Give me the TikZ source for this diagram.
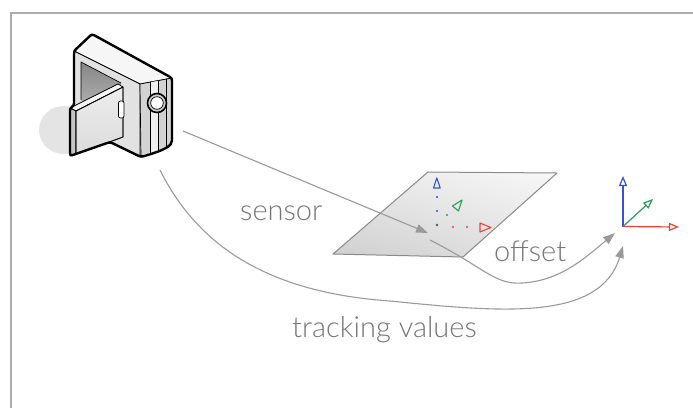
\documentclass[tikz,border=0pt]{standalone}
\usepackage{fontspec}
\setmainfont{Lato}[UprightFont={* Light}]
\usetikzlibrary{arrows.meta,shadings}

\definecolor{framegray}{HTML}{ADADAD}
\definecolor{linkgray}{HTML}{9A9A9A}
\definecolor{textgray}{HTML}{767676}
\definecolor{shadowgray}{HTML}{E4E4E4}
\definecolor{planeedge}{HTML}{8A8A8A}
\definecolor{axisblue}{HTML}{3B4FD6}
\definecolor{axisred}{HTML}{E8433B}
\definecolor{axisgreen}{HTML}{2F9A5C}
\definecolor{camtop}{HTML}{F6F6F6}
\definecolor{camface}{HTML}{E2E2E2}
\definecolor{camside}{HTML}{D3D3D3}
\definecolor{camdark}{HTML}{C4C4C4}

\tikzset{
  connector/.style={draw=linkgray, line width=1.1pt,
    -{Triangle[length=12pt,width=8.5pt]}},
  lbltext/.style={text=textgray, font=\fontsize{29}{29}\selectfont,
    anchor=base west, inner sep=0pt},
  thinedge/.style={draw=black, line width=0.7pt, line join=round},
  axisarrow/.style={line width=1.2pt,
    -{Triangle[open,length=10pt,width=8pt,fill=white]}},
  planedot/.style={radius=1.1pt},
}

\begin{document}
\begin{tikzpicture}[x=1pt,y=-1pt]
\useasboundingbox (0,0) rectangle (693,408);
\fill[white] (0,0) rectangle (693,408);

% frame edges
\draw[framegray, line width=2pt] (11,408) -- (11,13) -- (693,13);

% ---------- camera ----------
\fill[shadowgray] (64,130) ellipse [x radius=25, y radius=24];

% base fill of the whole silhouette
\fill[camdark] (74,51) -- (92,34) -- (172,78) -- (172,138)
  .. controls (172,146) and (165,150) .. (141,157)
  -- (110,142) -- (70,156) -- (70,108) -- (74,106) -- cycle;

% top face
\filldraw[fill=camtop, thinedge] (74,51) -- (92,34) -- (172,78) -- (140,84) -- cycle;
% long face
\filldraw[fill=camface, thinedge] (74,51) -- (140,84) -- (140,157) -- (74,124) -- cycle;
% screen recess
\shade[top color=black!48, bottom color=black!25] (81,62) -- (121,83) -- (121,120) -- (81,100) -- cycle;
\draw[thinedge] (81,100) -- (81,62) -- (121,83);
% lens side with vertical strips
\filldraw[fill=camside, thinedge] (140,84) -- (172,78) -- (172,138)
  .. controls (172,146) and (165,150) .. (141,157) -- cycle;
\fill[white!94!black] (150,82.3) -- (158,81) -- (158,151) -- (150,154) -- cycle;
\draw[thinedge] (150,82.3) -- (150,154);
\draw[thinedge] (158,81) -- (158,151);
\draw[thinedge] (166,79) -- (166,146);

% open door: top edge, side edge, front face
\filldraw[fill=white!97!black, thinedge] (70,108) -- (118,84) -- (123,87) -- (76,111) -- cycle;
\filldraw[fill=camdark, thinedge] (70,108) -- (76,111) -- (76,154) -- (70,156) -- cycle;
\shade[top color=white!93!black, bottom color=white!86!black, thinedge]
  (76,111) -- (123,87) -- (123,137) -- (76,154) -- cycle;
\draw[thinedge] (76,111) -- (123,87) -- (123,137) -- (76,154) -- cycle;
% door handle
\filldraw[fill=white, thinedge, rounded corners=2pt] (118.5,101) rectangle (124,118);

% lens ring
\filldraw[fill=white!80!black, draw=black, line width=1.6pt] (157,103) circle [radius=9.5];
\filldraw[fill=white, draw=black, line width=0.7pt] (157,103) circle [radius=6.3];

% thick outline
\draw[black, line width=2.4pt, line join=round, rounded corners=2.5pt]
  (74,51) -- (92,34) -- (172,78) -- (172,138)
  .. controls (172,146) and (165,150) .. (141,157)
  -- (110,142) -- (70,156) -- (70,108) -- (74,106) -- cycle;

\coordinate (camSide) at (183,131);
\coordinate (camBase) at (160,170);

% ---------- tracked plane ----------
\coordinate (pA) at (333,254);
\coordinate (pB) at (463,257);
\coordinate (pC) at (557,173);
\coordinate (pD) at (428,172);
\shade[lower left=black!19, upper right=black!3, upper left=black!9,
  lower right=black!11] (pA) -- (pB) -- (pC) -- (pD) -- cycle;
\draw[planeedge, line width=1pt, line join=round] (pA) -- (pB) -- (pC) -- (pD) -- cycle;

% local axes on the plane
\coordinate (pO) at (437,225);
\fill[black!65] (pO) circle [radius=1.4pt];
\fill[axisblue] (437,211) circle [planedot] (437,197) circle [planedot];
\fill[axisred] (453,227) circle [planedot] (467,227) circle [planedot];
\fill[axisgreen] (447,215) circle [planedot];
\draw[axisblue, line width=1.1pt, line join=round] (433.5,188) -- (436.8,178) -- (440.2,188) -- cycle;
\draw[axisred, line width=1.1pt, line join=round] (480,223) -- (491,227.5) -- (480,232) -- cycle;
\draw[axisgreen, line width=1.1pt, line join=round] (452.5,206) -- (462,200) -- (458.5,211) -- cycle;

% ---------- world axes ----------
\coordinate (wO) at (623,226.5);
\draw[axisblue, axisarrow] (wO) -- (623,176);
\draw[axisred, axisarrow] (wO) -- (679,227);
\draw[axisgreen, axisarrow] (wO) -- (653,199);

% ---------- connectors ----------
\coordinate (sensorEnd) at (428,233);
\coordinate (offStart) at (430,240);
\coordinate (tipA) at (615,233);
\coordinate (tipB) at (623,246);

\draw[connector] (camSide) -- (sensorEnd);
\draw[connector] (offStart) .. controls (485,268) and (495,285) .. (522,283)
  .. controls (560,281) and (585,258) .. (tipA);
\draw[connector] (camBase) .. controls (195,240) and (260,292) .. (390,301)
  .. controls (500,312) and (600,322) .. (tipB);

% ---------- labels ----------
\node[lbltext] (lblSensor) at (240,220) {sensor};
\node[lbltext] (lblOffset) at (494,261) {offset};
\node[lbltext] (lblTrack) at (292,337) {tracking values};
\end{tikzpicture}
\end{document}
